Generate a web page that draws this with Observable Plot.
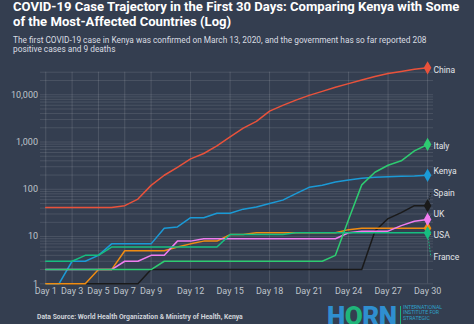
<!DOCTYPE html>
<html>
<head>
<meta charset="utf-8">
<script src="https://cdn.jsdelivr.net/npm/d3@7"></script>
<script src="https://cdn.jsdelivr.net/npm/@observablehq/plot@0.6"></script>
<style>
html,body{margin:0;padding:0;background:#343e50;}
#wrap{position:relative;width:474px;height:324px;overflow:hidden;background:#343e50;font-family:Roboto,"Noto Sans",sans-serif;}
#title{position:absolute;left:13px;top:-0.6px;font-weight:700;font-size:13.1px;line-height:15px;color:#ffffff;white-space:nowrap;}
#sub{position:absolute;left:13px;top:35.9px;font-size:8.3px;line-height:9.6px;color:#d9dde2;white-space:nowrap;}
#chart{position:absolute;left:0;top:60px;}
#src{position:absolute;left:37px;top:314px;font-size:6.8px;line-height:7px;font-weight:700;color:#cfd3d9;white-space:nowrap;}
#logo{position:absolute;left:327px;top:303px;font-size:26px;line-height:26px;font-weight:900;color:#2f8fd0;letter-spacing:-0.5px;white-space:nowrap;}
#logo .o{color:#1fb57a;}
#logoline{position:absolute;left:400px;top:306px;width:1px;height:20px;background:#1fb57a;}
#logotxt{position:absolute;left:403px;top:304.5px;font-size:5.2px;line-height:5.6px;color:#2fa0c8;white-space:nowrap;}
</style>
</head>
<body>
<div id="wrap">
  <div id="title">COVID-19 Case Trajectory in the First 30 Days: Comparing Kenya with Some<br>of the Most-Affected Countries (Log)</div>
  <div id="sub">The first COVID-19 case in Kenya was confirmed on March 13, 2020, and the government has so far reported 208<br>positive cases and 9 deaths</div>
  <div id="chart"></div>
  <div id="src">Data Source: World Health Organization &amp; Ministry of Health, Kenya</div>
  <div id="logo">H<span class="o">O</span>RN</div>
  <div id="logoline"></div>
  <div id="logotxt">INTERNATIONAL<br>INSTITUTE FOR<br>STRATEGIC</div>
</div>
<script>
// ---- data ----
const days = [1,2,3,4,5,6,7,8,9,10,11,12,13,14,15,16,17,18,19,20,21,22,23,24,25,26,27,28,29,30];
const china  = [41,41,41,41,41,41,45,62,121,198,291,440,571,830,1287,1975,2744,4515,5974,7711,9692,11791,14380,17205,20438,24324,28018,31161,34546,37198];
const italy  = [2,2,2,2,2,2,2,2,2,3,3,3,3,3,3,3,3,3,3,3,3,3,4,23,124,229,322,400,650,888];
const kenya  = [1,1,3,3,4,7,7,7,7,15,16,25,25,31,31,38,42,50,59,81,110,122,142,158,172,179,184,189,191,197];
const spain  = [1,1,1,1,1,1,1,1,2,2,2,2,2,2,2,2,2,2,2,2,2,2,2,2,2,13,24,32,45,45];
const uk     = [2,2,2,2,2,2,3,3,4,4,8,8,9,9,9,9,9,9,9,9,9,9,9,12,13,13,13,17,21,23];
const usa    = [1,1,1,1,2,2,5,5,5,5,6,7,8,8,11,11,12,12,12,12,12,12,12,14,15,15,15,15,15,15];
const france = [3,3,3,4,4,6,6,6,6,6,6,6,6,6,11,11,11,11,11,12,12,12,12,12,12,12,12,12,12,12];
const countries = ["Spain","Kenya","USA","UK","Italy","France","China"]; // draw order
const seriesByName = {China: china, Italy: italy, Kenya: kenya, Spain: spain, UK: uk, USA: usa, France: france};
const xTicks = [1,3,5,7,9,12,15,18,21,24,27,30];
const yTicks = [1,10,100,1000,10000];
const yGrid = [1,2,3,4,5,6,7,8,9,10,20,30,40,50,60,70,80,90,100,200,300,400,500,600,700,800,900,1000,2000,3000,4000,5000,6000,7000,8000,9000,10000,20000,30000];

// ---- styles ----
const colors = {China:"#e9523b", Italy:"#2ecc71", Kenya:"#1b9ad6", Spain:"#1a1a1a", UK:"#f07cf0", USA:"#f08c12", France:"#17bd80"};

const rows = countries.flatMap(c => seriesByName[c].map((v, i) => ({country: c, day: days[i], value: v})));
const ends = countries.map(c => ({country: c, day: days[days.length - 1], value: seriesByName[c][days.length - 1]}));

const baseOpts = {
  width: 474, height: 264,
  marginLeft: 40, marginRight: 41, marginTop: 11.7, marginBottom: 40.7,
  style: {background: "transparent", color: "#bfc4cb", fontFamily: "Roboto, sans-serif", fontSize: "9px"},
  x: {domain: [0.6, 30.45], ticks: xTicks, tickFormat: d => "Day " + d, tickSize: 0, tickPadding: 4, label: null},
  y: {type: "log", domain: [1, 30000], ticks: yTicks, tickFormat: d3.format(","), tickSize: 0, tickPadding: 2.5, label: null},
  color: {domain: countries, range: countries.map(c => colors[c])}
};

const baseMarks = [
  Plot.ruleY(yGrid, {stroke: "#ffffff", strokeOpacity: 0.11}),
  Plot.ruleX(xTicks, {y1: 1, y2: 30000, stroke: "#ffffff", strokeOpacity: 0.13}),
  Plot.line(rows, {x: "day", y: "value", z: "country", stroke: "country", strokeWidth: 1.5}),
  Plot.dot(ends, {x: "day", y: "value", fill: "country", symbol: "diamond", r: 4})
];

// first pass to obtain the scale
const p0 = Plot.plot({...baseOpts, marks: baseMarks});
const ysd = p0.scale("y");
const ys = d3.scaleLog(ysd.domain, ysd.range);

// label dodge
const gap = 21.3;
const items = ends.map(d => ({...d, target: ys(d.value)})).sort((a, b) => a.target - b.target);
let groups = items.map(d => ({members: [d], top: d.target}));
let merged = true;
while (merged) {
  merged = false;
  for (let i = 1; i < groups.length; i++) {
    const a = groups[i - 1], b = groups[i];
    if (a.top + a.members.length * gap > b.top) {
      const members = a.members.concat(b.members);
      const mean = d3.mean(members, m => m.target);
      groups.splice(i - 1, 2, {members, top: mean - (members.length - 1) * gap / 2});
      merged = true;
      break;
    }
  }
}
const labels = [];
groups.forEach(g => g.members.forEach((m, k) => {
  const pix = g.top + k * gap + 2;
  labels.push({...m, pix, lv: ys.invert(pix)});
}));
const leaders = labels.filter(d => Math.abs(d.pix - d.target) > 5);

const plot = Plot.plot({
  ...baseOpts,
  marks: [
    ...baseMarks.slice(0, 3),
    Plot.link(leaders, {x1: "day", y1: "value", x2: 30.25, y2: "lv", stroke: "country", strokeWidth: 1, strokeDasharray: "1.5,1.5"}),
    baseMarks[3],
    Plot.text(labels, {x: "day", y: "lv", text: "country", dx: 6, textAnchor: "start", fill: "#e2e5e9", fontSize: 8.5})
  ]
});
document.getElementById("chart").appendChild(plot);
</script>
</body>
</html>
